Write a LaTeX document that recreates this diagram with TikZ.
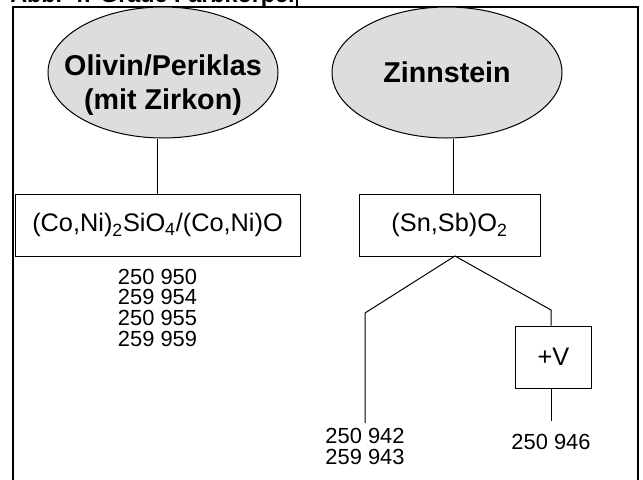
\documentclass[tikz,border=0pt]{standalone}
\usepackage{fontspec}
\setmainfont{Liberation Sans}
\usetikzlibrary{shapes.geometric}
\definecolor{ovalgray}{RGB}{221,221,221}
\begin{document}
\begin{tikzpicture}[x=0.75pt,y=-0.75pt,
  frame/.style={draw=black, line width=1.5pt},
  conn/.style={draw=black, line width=0.75pt},
  oval/.style={ellipse, draw=black, fill=ovalgray, line width=0.75pt,
    minimum width=172.5pt, minimum height=98.25pt, inner sep=0pt},
  ovalfont/.style={font=\fontsize{21.5}{25.5}\selectfont\bfseries},
  ovaltext/.style={ovalfont, align=center, inner sep=0pt},
  formbox/.style={draw=black, line width=0.75pt, minimum height=46.5pt, inner sep=0pt,
    font=\fontsize{19}{23}\selectfont},
  nums/.style={font=\fontsize{16.4}{15.5}\selectfont, align=center, inner sep=0pt},
  titletext/.style={font=\fontsize{17.5}{20}\selectfont\bfseries, inner sep=0pt}
]
\useasboundingbox (0,0) rectangle (643,479);
\clip (0,0) rectangle (643,479);

% heading cell and outer frame
\node[titletext, anchor=base west] (title) at (10,2) {Abb. 4: Graue Farbkörper};
\draw[frame] (297,-5) -- (297,6.5);
\draw[frame] (12.5,490) -- (12.5,6.5) -- (637.5,6.5) -- (637.5,490);

% pigment families
\node[oval] (olivin) at (163,72.5) {};
\node[ovaltext] (olivintext) at (163,85) {Olivin/Periklas\\(mit Zirkon)};
\node[oval, ovalfont] (zinn) at (447,72.5) {Zinnstein};

% structural formulas
\node[formbox, minimum width=213.75pt] (olivbox) at (157.5,225)
  {(Co,Ni)\textsubscript{2}SiO\textsubscript{4}/(Co,Ni)O};
\node[formbox, minimum width=135.75pt] (zinnbox) at (449.5,225)
  {(Sn,Sb)O\textsubscript{2}};
\node[formbox, minimum width=57pt] (vbox) at (553.5,357) {+V};

% connectors
\draw[conn] (olivbox.north) ++(-0.4,0) coordinate (oltop) -- (oltop |- olivin.south);
\coordinate (zntop) at (453,194);
\draw[conn] (zntop) -- (zntop |- zinn.south);
\coordinate (split) at (455,256);
\coordinate (bendL) at (365,313);
\coordinate (endL) at (365,423);
\coordinate (bendR) at (551,310);
\coordinate (endR) at (551,421);
\draw[conn] (split) -- (bendL) -- (endL);
\draw[conn] (split) -- (bendR) -- (bendR |- vbox.north);
\draw[conn] (vbox.south -| endR) -- (endR);

% article numbers
\node[nums] (olivnums) at (157.5,307.5) {250 950\\259 954\\250 955\\259 959};
\node[nums] (zinnnums) at (365,446.5) {250 942\\259 943};
\node[nums, anchor=base] (vnums) at (551,449) {250 946};
\end{tikzpicture}
\end{document}
